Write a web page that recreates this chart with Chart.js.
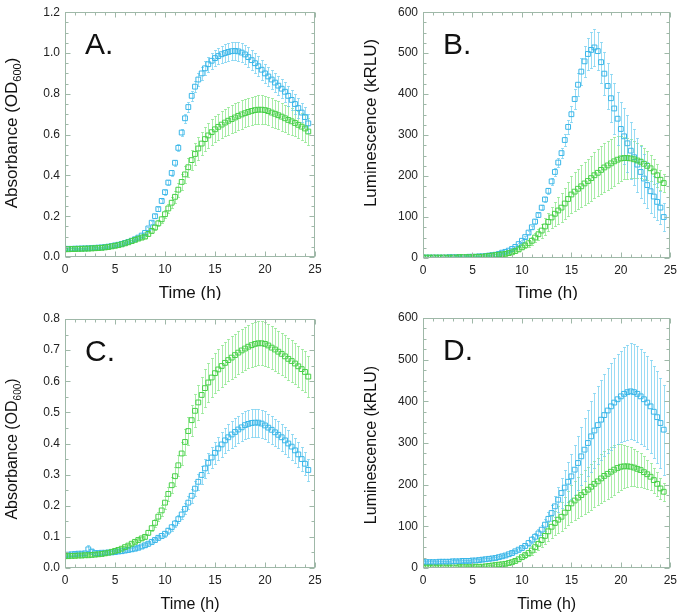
<!DOCTYPE html>
<html>
<head>
<meta charset="utf-8">
<script src="https://cdn.jsdelivr.net/npm/chart.js@4.4.1/dist/chart.umd.min.js"></script>
<style>
  body { margin: 0; background: #fff; }
  #wrap { position: relative; width: 682px; height: 616px; }
  canvas { position: absolute; }
</style>
</head>
<body>
<div id="wrap">
  <canvas id="pA" width="340" height="300" style="left:0;top:0"></canvas>
  <canvas id="pB" width="342" height="300" style="left:340px;top:0"></canvas>
  <canvas id="pC" width="340" height="316" style="left:0;top:300px"></canvas>
  <canvas id="pD" width="342" height="316" style="left:340px;top:300px"></canvas>
</div>
<script>
// sampling times (h), one reading every 20 min
const times = [
  0,0.33,0.67, 1,1.33,1.67, 2,2.33,2.67, 3,3.33,3.67, 4,4.33,4.67, 5,5.33,5.67,
  6,6.33,6.67, 7,7.33,7.67, 8,8.33,8.67, 9,9.33,9.67, 10,10.33,10.67, 11,11.33,11.67,
  12,12.33,12.67, 13,13.33,13.67, 14,14.33,14.67, 15,15.33,15.67, 16,16.33,16.67,
  17,17.33,17.67, 18,18.33,18.67, 19,19.33,19.67, 20,20.33,20.67, 21,21.33,21.67,
  22,22.33,22.67, 23,23.33,23.67, 24,24.33
]

// control strain (green), absorbance
const absCtl = [
  .038,.038,.039, .039,.040,.040, .041,.041,.042, .043,.044,.045, .047,.049,.052,
  .055,.058,.062, .067,.072,.078, .084,.090,.095, .100,.113,.128, .145,.165,.185,
  .210,.238,.266, .295,.330,.368, .405,.440,.475, .505,.532,.556, .578,.596,.612,
  .626,.638,.649, .659,.668,.676, .684,.692,.699, .705,.711,.716, .720,.722,.722,
  .720,.715,.708, .702,.695,.688, .680,.672,.665, .657,.648,.639, .630,.615
]
const absCtlErr = [
  .004,.004,.004, .004,.004,.004, .004,.004,.004, .004,.004,.004, .004,.004,.004,
  .004,.004,.004, .004,.005,.005, .005,.005,.006, .006,.008,.010, .012,.014,.017,
  .020,.023,.026, .030,.034,.038, .042,.046,.050, .053,.056,.058, .060,.062,.063,
  .064,.065,.066, .067,.068,.068, .069,.069,.070, .070,.070,.070, .070,.070,.070,
  .070,.069,.069, .068,.068,.068, .067,.067,.067, .066,.066,.066, .066,.066
]

// panel A, blue strain, absorbance
const absA = [
  .040,.040,.040, .041,.041,.042, .042,.043,.044, .045,.046,.047, .049,.051,.054,
  .057,.060,.064, .069,.074,.080, .087,.095,.105, .118,.140,.168, .200,.235,.275,
  .318,.365,.412, .462,.535,.610, .680,.735,.790, .835,.870,.900, .925,.945,.962,
  .975,.985,.994, 1.000,1.005,1.009, 1.010,1.008,1.002, .993,.980,.965, .950,.935,.918,
  .900,.885,.870, .855,.840,.825, .810,.790,.770, .750,.730,.708, .686,.655
]
const absAErr = [
  .004,.004,.004, .004,.004,.004, .004,.004,.004, .004,.004,.004, .004,.004,.004,
  .004,.004,.005, .005,.005,.005, .005,.006,.006, .006,.007,.008, .009,.010,.011,
  .012,.013,.014, .015,.017,.019, .021,.023,.025, .028,.030,.032, .034,.036,.038,
  .040,.041,.042, .043,.044,.045, .046,.047,.048, .048,.048,.048, .048,.048,.048,
  .048,.048,.048, .048,.048,.048, .048,.048,.048, .048,.048,.048, .048,.048
]

// panel C, blue strain, absorbance
const absC = [
  .042,.043,.044, .045,.046,.046, .047,.060,.053, .048,.048,.049, .049,.050,.050,
  .051,.053,.054, .056,.058,.060, .062,.065,.069, .073,.078,.084, .090,.097,.103,
  .110,.120,.131, .143,.157,.172, .190,.210,.232, .255,.277,.299, .320,.338,.355,
  .370,.384,.397, .410,.420,.429, .437,.445,.452, .459,.463,.466, .467,.467,.464,
  .458,.451,.444, .436,.428,.420, .410,.400,.390, .378,.365,.350, .335,.315
]
const absCErr = [
  .005,.005,.005, .005,.005,.005, .005,.013,.008, .005,.005,.005, .005,.005,.005,
  .005,.005,.005, .005,.005,.005, .005,.005,.006, .006,.006,.006, .006,.007,.008,
  .009,.010,.011, .012,.014,.016, .018,.020,.022, .024,.026,.028, .030,.032,.034,
  .036,.038,.040, .041,.042,.043, .044,.044,.045, .045,.045,.045, .045,.045,.045,
  .045,.045,.045, .044,.044,.044, .043,.043,.042, .041,.040,.039, .037,.035
]

// control strain (green), luminescence (kRLU)
const lumCtl = [
  1,1,1, 1,1,1, 1,1,1, 1,1,2, 2,2,2, 2,3,3, 3,4,5, 6,7,8, 9,10,12, 14,17,21,
  26,31,36, 42,50,58, 67,77,88, 99,108,116, 123,133,144, 155,162,169, 175,182,188,
  195,202,208, 215,221,226, 231,236,240, 243,244,244, 243,241,238, 235,230,225,
  219,211,202, 191,183
]
const lumCtlErr = [
  2,2,2, 2,2,2, 2,2,2, 2,2,2, 2,2,2, 2,2,2, 2,2,2, 2,2,2, 2,2,2, 3,4,5,
  5,6,8, 10,12,14, 17,20,23, 26,29,32, 35,38,41, 44,47,49, 51,53,54,
  55,56,57, 58,59,60, 60,60,58, 55,52,50, 47,45,43, 40,38,35,
  32,30,28, 25,22
]

// panel B, blue strain, luminescence
const lumB = [
  1,1,1, 1,1,1, 1,1,2, 2,2,2, 2,2,3, 3,3,4, 4,5,6, 7,8,10, 13,15,18, 22,27,34,
  42,51,62, 75,89,105, 123,143,164, 187,210,233, 256,288,320, 351,388,423, 455,480,498,
  508,514,505, 478,450,420, 390,365,340, 315,297,280, 262,246,228, 210,194,178,
  163,150,137, 123,100
]
const lumBErr = [
  2,2,2, 2,2,2, 2,2,2, 2,2,2, 2,2,2, 2,2,2, 2,2,2, 2,2,2, 2,2,2, 2,2,3,
  3,3,4, 4,5,5, 6,7,8, 9,10,11, 13,15,17, 20,24,28, 33,37,40,
  43,45,47, 50,53,56, 59,62,65, 67,68,69, 69,68,66, 63,60,57,
  53,49,45, 40,35
]

// panel D, blue strain, luminescence
const lumD = [
  14,14,14, 14,14,15, 15,15,15, 16,16,16, 17,17,17, 18,18,19, 20,21,22, 23,24,26,
  28,30,33, 36,40,44, 48,53,60, 68,75,83, 92,104,118, 132,148,164, 180,193,207,
  220,236,252, 268,284,300, 316,330,343, 356,367,378, 388,397,405, 412,418,422,
  424,422,418, 412,405,397, 388,375,362, 348,332
]
const lumDErr = [
  3,3,3, 3,3,3, 3,3,3, 3,3,3, 3,3,3, 3,3,3, 3,3,3, 3,3,3, 3,3,3, 4,4,5,
  5,6,7, 8,9,10, 12,14,17, 20,25,30, 36,42,48, 54,60,65, 70,75,80,
  85,89,93, 96,99,102, 104,106,108, 110,112,114, 115,115,115, 114,113,112,
  111,110,110, 109,108
]

const xTicks = [0, 5, 10, 15, 20, 25]

Chart.defaults.font.family = "'Liberation Sans', Arial, sans-serif"
Chart.defaults.color = '#222'

const frameColor = '#9fb8a8'
const blue = '#3ab6e8', blueBar = 'rgba(110,205,240,0.7)'
const green = '#48d048', greenBar = 'rgba(125,228,125,0.65)'

// error bars, drawn under the markers
const errorBars = {
  id: 'errorBars',
  beforeDatasetsDraw(chart) {
    const { ctx, chartArea, scales: { x, y } } = chart
    ctx.save()
    ctx.beginPath()
    ctx.rect(chartArea.left, chartArea.top, chartArea.width, chartArea.height)
    ctx.clip()
    chart.data.datasets.forEach(ds => {
      ctx.strokeStyle = ds.barColor
      ctx.lineWidth = 1
      ctx.beginPath()
      ds.data.forEach((p, i) => {
        const px = Math.round(x.getPixelForValue(p.x)) + 0.5
        const top = Math.round(y.getPixelForValue(p.y + ds.err[i])) + 0.5
        const bot = Math.round(y.getPixelForValue(p.y - ds.err[i])) + 0.5
        ctx.moveTo(px, top); ctx.lineTo(px, bot)
        ctx.moveTo(px - 1.5, top); ctx.lineTo(px + 1.5, top)
        ctx.moveTo(px - 1.5, bot); ctx.lineTo(px + 1.5, bot)
      })
      ctx.stroke()
    })
    ctx.restore()
  }
}

// box, inward ticks on all four sides, titles and panel letter
const decor = {
  id: 'decor',
  afterDraw(chart, args, o) {
    const { ctx, chartArea: a, scales: { x, y } } = chart
    ctx.save()
    ctx.strokeStyle = frameColor
    ctx.lineWidth = 1
    const L = Math.round(a.left) + 0.5, R = Math.round(a.right) - 0.5
    const T = Math.round(a.top) + 0.5, B = Math.round(a.bottom) - 0.5
    ctx.strokeRect(L, T, R - L, B - T)
    ctx.beginPath()
    for (let v = 0; v <= 25; v++) {
      const len = v % 5 === 0 ? 5 : 3
      const px = Math.round(x.getPixelForValue(v)) + 0.5
      ctx.moveTo(px, B); ctx.lineTo(px, B - len)
      ctx.moveTo(px, T); ctx.lineTo(px, T + len)
    }
    const n = Math.round(o.yMax / o.yMinor)
    for (let k = 0; k <= n; k++) {
      const len = k % o.yPer === 0 ? 5 : 3
      const py = Math.round(y.getPixelForValue(k * o.yMinor)) + 0.5
      ctx.moveTo(L, py); ctx.lineTo(L + len, py)
      ctx.moveTo(R, py); ctx.lineTo(R - len, py)
    }
    ctx.stroke()

    ctx.fillStyle = '#111'
    ctx.textBaseline = 'alphabetic'
    // panel letter
    ctx.font = "30px 'Liberation Sans', Arial, sans-serif"
    ctx.textAlign = 'left'
    ctx.fillText(o.letter, a.left + 20, a.top + 42)
    // x title
    ctx.font = o.titleSize + "px 'Liberation Sans', Arial, sans-serif"
    ctx.textAlign = 'center'
    ctx.fillText('Time (h)', (a.left + a.right) / 2, a.bottom + o.xTitleDy)
    // y title (rotated, with optional subscript)
    ctx.translate(o.yTitleX, o.yTitleY)
    ctx.rotate(-Math.PI / 2)
    ctx.textAlign = 'left'
    const big = o.titleSize + "px 'Liberation Sans', Arial, sans-serif"
    const small = Math.round(o.titleSize * 0.65) + "px 'Liberation Sans', Arial, sans-serif"
    ctx.font = big
    const w1 = ctx.measureText(o.yTitle).width
    const w3 = o.ySub ? ctx.measureText(o.yEnd).width : 0
    ctx.font = small
    const w2 = o.ySub ? ctx.measureText(o.ySub).width : 0
    let cx = -(w1 + w2 + w3) / 2
    ctx.font = big
    ctx.fillText(o.yTitle, cx, 0)
    cx += w1
    if (o.ySub) {
      ctx.font = small
      ctx.fillText(o.ySub, cx, 4)
      cx += w2
      ctx.font = big
      ctx.fillText(o.yEnd, cx, 0)
    }
    ctx.restore()
  }
}

function series(vals, errs, color, barColor) {
  return {
    data: times.map((t, i) => ({ x: t, y: vals[i] })),
    err: errs,
    barColor: barColor,
    showLine: false,
    pointStyle: 'rect',
    pointRadius: 3.4,
    borderWidth: 1,
    borderColor: color,
    backgroundColor: 'rgba(0,0,0,0)'
  }
}

function panel(id, datasets, opt) {
  new Chart(document.getElementById(id), {
    type: 'scatter',
    data: { datasets: datasets },
    plugins: [errorBars, decor],
    options: {
      responsive: false,
      animation: false,
      layout: { padding: { top: opt.top, right: opt.right, left: 0, bottom: 0 } },
      plugins: { legend: { display: false }, tooltip: { enabled: false }, decor: opt },
      scales: {
        x: {
          type: 'linear', min: 0, max: 25,
          afterBuildTicks: s => { s.ticks = xTicks.map(v => ({ value: v })) },
          afterFit: s => { s.height = opt.xh },
          grid: { display: false, drawTicks: false },
          border: { display: false },
          ticks: { padding: 5, font: { size: 12 }, maxRotation: 0 }
        },
        y: {
          min: 0, max: opt.yMax,
          afterFit: s => { s.width = opt.yw },
          grid: { display: false, drawTicks: false },
          border: { display: false },
          ticks: {
            stepSize: opt.yStep, padding: 5, font: { size: 12 },
            callback: v => opt.dec ? v.toFixed(opt.dec) : String(v)
          }
        }
      }
    }
  })
}

panel('pA', [
  series(absCtl, absCtlErr, green, greenBar),
  series(absA, absAErr, blue, blueBar)
], { letter: 'A.', top: 8, right: 25, xh: 43, yw: 65, yMax: 1.2, yStep: 0.2, yMinor: 0.05, yPer: 4, dec: 1,
     titleSize: 17, xTitleDy: 41, yTitle: 'Absorbance (OD', ySub: '600', yEnd: ')', yTitleX: 17, yTitleY: 133 })

panel('pB', [
  series(lumCtl, lumCtlErr, green, greenBar),
  series(lumB, lumBErr, blue, blueBar)
], { letter: 'B.', top: 8, right: 10, xh: 42, yw: 83, yMax: 600, yStep: 100, yMinor: 25, yPer: 4, dec: 0,
     titleSize: 17, xTitleDy: 40, yTitle: 'Luminescence (kRLU)', yTitleX: 36, yTitleY: 123 })

panel('pC', [
  series(absCtl, absCtlErr, green, greenBar),
  series(absC, absCErr, blue, blueBar)
], { letter: 'C.', top: 19, right: 25, xh: 48, yw: 65, yMax: 0.8, yStep: 0.1, yMinor: 0.05, yPer: 2, dec: 1,
     titleSize: 16, xTitleDy: 41, yTitle: 'Absorbance (OD', ySub: '600', yEnd: ')', yTitleX: 17, yTitleY: 149 })

panel('pD', [
  series(lumCtl, lumCtlErr, green, greenBar),
  series(lumD, lumDErr, blue, blueBar)
], { letter: 'D.', top: 18, right: 10, xh: 48, yw: 83, yMax: 600, yStep: 100, yMinor: 25, yPer: 4, dec: 0,
     titleSize: 16, xTitleDy: 41, yTitle: 'Luminescence (kRLU)', yTitleX: 36, yTitleY: 145 })
</script>
</body>
</html>
